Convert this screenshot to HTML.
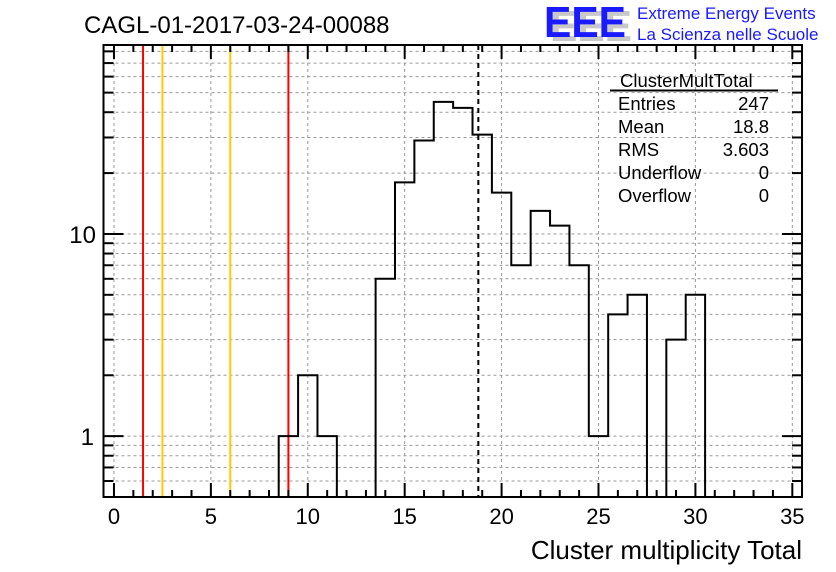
<!DOCTYPE html>
<html><head><meta charset="utf-8"><style>
body{margin:0;background:#fff;width:836px;height:572px;overflow:hidden}
svg{display:block;font-family:"Liberation Sans",sans-serif}
</style></head><body>
<svg id="c" width="836" height="572" viewBox="0 0 836 572">
<text x="84" y="33" font-size="24">CAGL-01-2017-03-24-00088</text>
<g>
<text x="550" y="41" font-size="44" font-weight="bold" fill="#c8c8c8" textLength="82" lengthAdjust="spacingAndGlyphs">EEE</text>
<text x="544" y="37" font-size="44" font-weight="bold" fill="#1a1aff" textLength="82" lengthAdjust="spacingAndGlyphs">EEE</text>
<text x="637" y="19" font-size="17" fill="#1a1aff">Extreme Energy Events</text>
<text x="637" y="40" font-size="17" fill="#1a1aff">La Scienza nelle Scuole</text>
</g>
<g id="grid"></g><g id="marks"></g><g id="axes"></g>
<g font-size="18.5">
<text x="620" y="87">ClusterMultTotal</text>
<line x1="610" y1="90.5" x2="778" y2="90.5" stroke="#000" stroke-width="2"/>
<text x="618" y="110">Entries</text><text x="769" y="110" text-anchor="end">247</text>
<text x="618" y="133">Mean</text><text x="769" y="133" text-anchor="end">18.8</text>
<text x="618" y="156">RMS</text><text x="769" y="156" text-anchor="end">3.603</text>
<text x="618" y="179">Underflow</text><text x="769" y="179" text-anchor="end">0</text>
<text x="618" y="202">Overflow</text><text x="769" y="202" text-anchor="end">0</text>
</g>
<text x="802" y="559" font-size="26" text-anchor="end">Cluster multiplicity Total</text>
</svg>
<script>
const binCenters=[9,10,11,12,13,14,15,16,17,18,19,20,21,22,23,24,25,26,27,28,29,30];
const counts=[1,2,1,0,0,6,18,29,45,42,31,16,7,13,11,7,1,4,5,0,3,5];
const xTicks=[0,5,10,15,20,25,30,35];
const yTicks=[1,10];
const redCuts=[1.5,9];
const yellowCuts=[2.5,6];
const meanVal=[18.8];
const L=103.5,R=802,T=45,B=497,X0=-0.54,X1=35.5,Y0=0.5,Y1=86;
const sx=v=>L+(v-X0)/(X1-X0)*(R-L);
const sy=v=>B-(Math.log10(v)-Math.log10(Y0))/(Math.log10(Y1)-Math.log10(Y0))*(B-T);
const NS='http://www.w3.org/2000/svg';
function mk(p,tag,a){const e=document.createElementNS(NS,tag);for(const k in a)e.setAttribute(k,a[k]);document.getElementById(p).appendChild(e);return e;}
const ys=[];[0.1,1,10].forEach(d=>{for(let m=1;m<10;m++){const v=d*m;if(v>Y0&&v<Y1)ys.push(v);}});
ys.forEach(v=>{const g=mk('grid','line',{x1:L,x2:R,y1:sy(v),y2:sy(v),stroke:'#999','stroke-dasharray':'3,3','stroke-width':1});


const maj=yTicks.includes(Math.round(v*100)/100);
const t1=mk('axes','line',{x1:L,x2:L+(maj?20:10),y1:sy(v),y2:sy(v),stroke:'#000','stroke-width':2});


const t2=mk('axes','line',{x1:R,x2:R-(maj?20:10),y1:sy(v),y2:sy(v),stroke:'#000','stroke-width':2});

});
xTicks.forEach(v=>{const g=mk('grid','line',{x1:sx(v),x2:sx(v),y1:T,y2:B,stroke:'#999','stroke-dasharray':'3,3','stroke-width':1});


const t=mk('axes','text',{x:sx(v),y:524,'font-size':22,'text-anchor':'middle'});t.textContent=v;

});
for(let v=0;v<=35;v++){const maj=v%5===0;
const a=mk('axes','line',{x1:sx(v),x2:sx(v),y1:B,y2:B-(maj?14:7),stroke:'#000','stroke-width':2});


const b=mk('axes','line',{x1:sx(v),x2:sx(v),y1:T,y2:T+(maj?14:7),stroke:'#000','stroke-width':2});

}
yTicks.forEach(v=>{const t=mk('axes','text',{x:v<10?94:96,y:sy(v)+9,'font-size':24,'text-anchor':'end'});t.textContent=v;

});
const fr=mk('axes','rect',{x:L,y:T,width:R-L,height:B-T,fill:'none',stroke:'#000','stroke-width':2});


function vline(v,col,name,dash){const l=mk('marks','line',{x1:sx(v),x2:sx(v),y1:T,y2:B,stroke:col,'stroke-width':2});if(dash)l.setAttribute('stroke-dasharray',dash);

}
redCuts.forEach(v=>vline(v,'#ff0000','red-cut-line'));
yellowCuts.forEach(v=>vline(v,'#ffcc00','yellow-cut-line'));
meanVal.forEach(v=>vline(v,'#000','mean-line','5,4'));
let d='';const yb=v=>v>0?sy(v):B;
binCenters.forEach((c,i)=>{const x0=sx(c-0.5),x1=sx(c+0.5),y=yb(counts[i]);
if(i===0)d+=`M${x0},${B}`;
d+=`L${x0},${y}L${x1},${y}`;});
d+=`L${sx(binCenters[binCenters.length-1]+0.5)},${B}`;
const h=mk('marks','path',{d:d,fill:'none',stroke:'#000','stroke-width':2});


</script>
</body></html>
